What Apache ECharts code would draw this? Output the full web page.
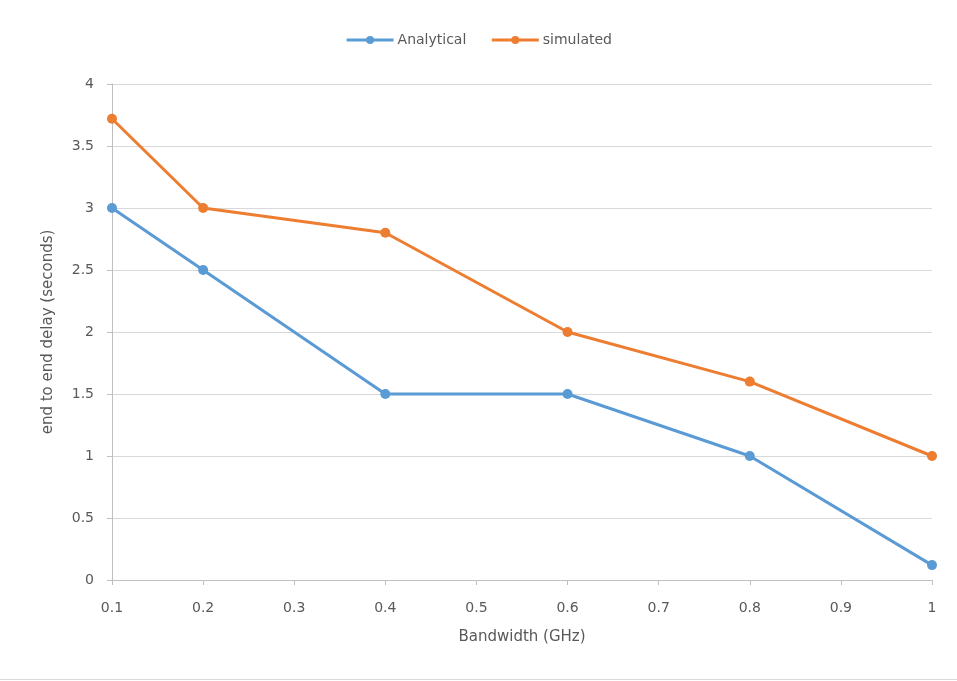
<!DOCTYPE html>
<html>
<head>
<meta charset="utf-8">
<script src="https://cdn.jsdelivr.net/npm/echarts@6/dist/echarts.min.js"></script>
<style>
  html, body { margin: 0; padding: 0; background: #fff; }
  #chart { width: 957px; height: 681px; }
</style>
</head>
<body>
<div id="chart"></div>
<script>
// Bandwidth (GHz) on x, end-to-end delay (s) on y
const bandwidth = [0.1, 0.2, 0.4, 0.6, 0.8, 1.0];
const analytical = [3.0, 2.5, 1.5, 1.5, 1.0, 0.12];
const simulated = [3.72, 3.0, 2.8, 2.0, 1.6, 1.0];

const pairs = (xs, ys) => xs.map((x, i) => [x, ys[i]]);
const font = '"DejaVu Sans", "Noto Sans", sans-serif';
const textColor = '#595959';

const chart = echarts.init(document.getElementById('chart'));
chart.setOption({
  animation: false,
  textStyle: { fontFamily: font },
  legend: {
    top: 28,
    left: 'center',
    itemWidth: 47,
    itemHeight: 10,
    itemGap: 24,
    lineStyle: { width: 3 },
    textStyle: { color: textColor, fontSize: 14, fontFamily: font, padding: [0, 0, 0, -1] },
    data: ['Analytical', 'simulated']
  },
  grid: { left: 112, right: 25, top: 84, bottom: 101 },
  xAxis: {
    type: 'value',
    min: 0.1, max: 1, interval: 0.1,
    name: 'Bandwidth (GHz)',
    nameLocation: 'middle',
    nameGap: 50,
    nameTextStyle: { color: textColor, fontSize: 15, fontFamily: font },
    axisLine: { lineStyle: { color: '#BFBFBF', width: 1 } },
    axisTick: { show: true, length: 5, lineStyle: { color: '#BFBFBF' } },
    axisLabel: {
      color: textColor, fontSize: 14, margin: 21, fontFamily: font,
      formatter: v => String(Math.round(v * 10) / 10)
    },
    splitLine: { show: false }
  },
  yAxis: {
    type: 'value',
    min: 0, max: 4, interval: 0.5,
    name: 'end to end delay (seconds)',
    nameLocation: 'middle',
    nameGap: 56,
    nameTextStyle: { color: textColor, fontSize: 15, fontFamily: font },
    axisLine: { show: true, lineStyle: { color: '#BFBFBF', width: 1 } },
    axisTick: { show: true, length: 5, lineStyle: { color: '#BFBFBF' } },
    axisLabel: { color: textColor, fontSize: 14, margin: 18, fontFamily: font },
    splitLine: { lineStyle: { color: '#D9D9D9', width: 1 } }
  },
  series: [
    {
      name: 'Analytical', type: 'line',
      data: pairs(bandwidth, analytical),
      symbol: 'circle', symbolSize: 10,
      lineStyle: { color: '#5B9BD5', width: 3 },
      itemStyle: { color: '#5B9BD5' }
    },
    {
      name: 'simulated', type: 'line',
      data: pairs(bandwidth, simulated),
      symbol: 'circle', symbolSize: 10,
      lineStyle: { color: '#ED7D31', width: 3 },
      itemStyle: { color: '#ED7D31' }
    }
  ],
  graphic: [{
    type: 'rect',
    shape: { x: 0, y: 679, width: 957, height: 1 },
    style: { fill: '#D9D9D9' }
  }]
});
</script>
</body>
</html>
